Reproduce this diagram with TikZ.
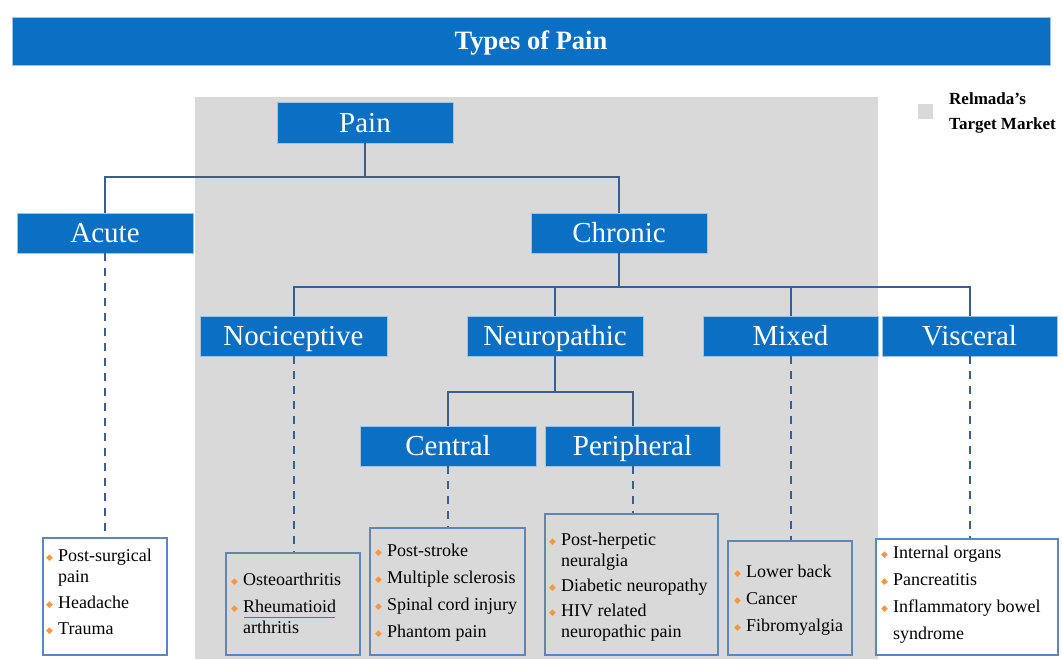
\documentclass[tikz,border=0pt]{standalone}
\usepackage{fontspec}
\setmainfont{Liberation Serif}
\newfontfamily\symfont{DejaVu Sans}
\usetikzlibrary{calc}
\definecolor{boxblue}{HTML}{0B6FC4}
\definecolor{boxedge}{HTML}{9DC3E6}
\definecolor{linecol}{HTML}{3B5F8C}
\definecolor{listedge}{HTML}{5B87BA}
\definecolor{regiongray}{HTML}{D9D9D9}
\definecolor{bulletorange}{HTML}{F79646}
\newcommand{\bul}{\makebox[12pt][l]{\raisebox{1.5pt}{\symfont\fontsize{9}{9}\selectfont\color{bulletorange}◆}}}
\newcommand{\listfont}{\fontsize{18}{21}\selectfont}
\tikzset{
  bluebox/.style={rectangle, fill=boxblue, draw=boxedge, line width=0.8pt, text=white,
    inner sep=0pt, minimum height=40pt, text height=21pt, text depth=2pt,
    font=\fontsize{29}{32}\selectfont},
  tree/.style={draw=linecol, line width=2pt},
  dashline/.style={draw=linecol, line width=2pt, dash pattern=on 8pt off 7pt},
  listbox/.style={rectangle, draw=listedge, line width=2pt, inner sep=0pt},
  listtext/.style={anchor=north west, inner sep=0pt, font=\listfont, text=black},
}
\begin{document}
\begin{tikzpicture}[x=1pt,y=-1pt]
\useasboundingbox (0,0) rectangle (1062,659);
\fill[white] (0,0) rectangle (1062,659);
% target market region
\fill[regiongray] (195,97) rectangle (878,659);
% title
\node[rectangle, fill=boxblue, draw=boxedge, line width=1pt, minimum width=1038pt, minimum height=48pt,
  inner sep=0pt, text height=19pt, text depth=1.5pt, text=white,
  font=\bfseries\fontsize{26.5}{29}\selectfont] (title) at (531,41) {Types of Pain};
% legend
\node[rectangle, fill=regiongray, minimum size=15pt, inner sep=0pt] (legsq) at (925,111.5) {};
\node[anchor=west, inner sep=0pt, align=left, font=\bfseries\fontsize{17}{25}\selectfont] (legtext) at (949,113) {Relmada's\\Target Market};
% main boxes
\node[bluebox, minimum width=176pt, minimum height=41pt] (pain) at (365,122.5) {Pain};
\node[bluebox, minimum width=176pt] (acute) at (105,233) {Acute};
\node[bluebox, minimum width=176pt] (chronic) at (619,233) {Chronic};
\node[bluebox, minimum width=187pt] (noci) at (293.5,336) {Nociceptive};
\node[bluebox, minimum width=176pt] (neuro) at (555,336) {Neuropathic};
\node[bluebox, minimum width=175pt] (mixed) at (790.5,336) {Mixed};
\node[bluebox, minimum width=175pt] (visc) at (969.5,336) {Visceral};
\node[bluebox, minimum width=176pt] (central) at (448,446) {Central};
\node[bluebox, minimum width=175pt] (peri) at (632.5,446) {Peripheral};
% junctions
\coordinate (j1) at (365,177);
\coordinate (j2) at (619,287);
\coordinate (j3) at (555,392);
% tree connectors
\draw[tree] (pain.south) -- (j1);
\draw[tree] (acute.north) |- (j1) -| (chronic.north);
\draw[tree] (chronic.south) -- (j2);
\draw[tree] (noci.north) |- (j2) -| (visc.north);
\draw[tree] (neuro.north) -- (neuro.north |- j2);
\draw[tree] (mixed.north) -- (mixed.north |- j2);
\draw[tree] (neuro.south) -- (j3);
\draw[tree] (central.north) |- (j3) -| (peri.north);
% list boxes
\node[listbox, fill=white, minimum width=124pt, minimum height=117pt] (lacute) at (105,596.5) {};
\node[listbox, fill=regiongray, minimum width=134pt, minimum height=102pt] (lnoci) at (293,604) {};
\node[listbox, fill=regiongray, minimum width=155pt, minimum height=127pt] (lcent) at (447.5,591.5) {};
\node[listbox, fill=regiongray, minimum width=173pt, minimum height=141pt] (lperi) at (631.5,584.5) {};
\node[listbox, fill=regiongray, minimum width=124pt, minimum height=114pt] (lmix) at (790,598) {};
\node[listbox, fill=white, minimum width=182pt, minimum height=116pt] (lvisc) at (967,597) {};
% dashed connectors
\draw[dashline] (acute.south) -- (acute.south |- lacute.north);
\draw[dashline] (noci.south) -- (noci.south |- lnoci.north);
\draw[dashline] (central.south) -- (central.south |- lcent.north);
\draw[dashline] (peri.south) -- (peri.south |- lperi.north);
\draw[dashline] (mixed.south) -- (mixed.south |- lmix.north);
\draw[dashline] (visc.south) -- (visc.south |- lvisc.north);
% list texts
\node[listtext] (tacute) at (46,547) {\begin{tabular}{@{}l@{}l@{}}
\bul & Post-surgical\\ & pain\\[5pt] \bul & Headache\\[5pt] \bul & Trauma\end{tabular}};
\node[listtext] (tnoci) at (231,571) {\begin{tabular}{@{}l@{}l@{}}
\bul & Osteoarthritis\\[6pt] \bul & Rheumatioid\\ & arthritis\end{tabular}};
\draw[red!80, line width=0.6pt] (244,617) -- (335,617);
\node[listtext] (tcent) at (375,542) {\begin{tabular}{@{}l@{}l@{}}
\bul & Post-stroke\\[6pt] \bul & Multiple sclerosis\\[6pt] \bul & Spinal cord injury\\[6pt] \bul & Phantom pain\end{tabular}};
\node[listtext] (tperi) at (549,531) {\begin{tabular}{@{}l@{}l@{}}
\bul & Post-herpetic\\ & neuralgia\\[4pt] \bul & Diabetic neuropathy\\[4pt] \bul & HIV related\\ & neuropathic pain\end{tabular}};
\node[listtext] (tmix) at (734,563) {\begin{tabular}{@{}l@{}l@{}}
\bul & Lower back\\[6pt] \bul & Cancer\\[6pt] \bul & Fibromyalgia\end{tabular}};
\node[listtext] (tvisc) at (881,544) {\begin{tabular}{@{}l@{}l@{}}
\bul & Internal organs\\[6pt] \bul & Pancreatitis\\[6pt] \bul & Inflammatory bowel\\[6pt] & syndrome\end{tabular}};
\end{tikzpicture}
\end{document}
